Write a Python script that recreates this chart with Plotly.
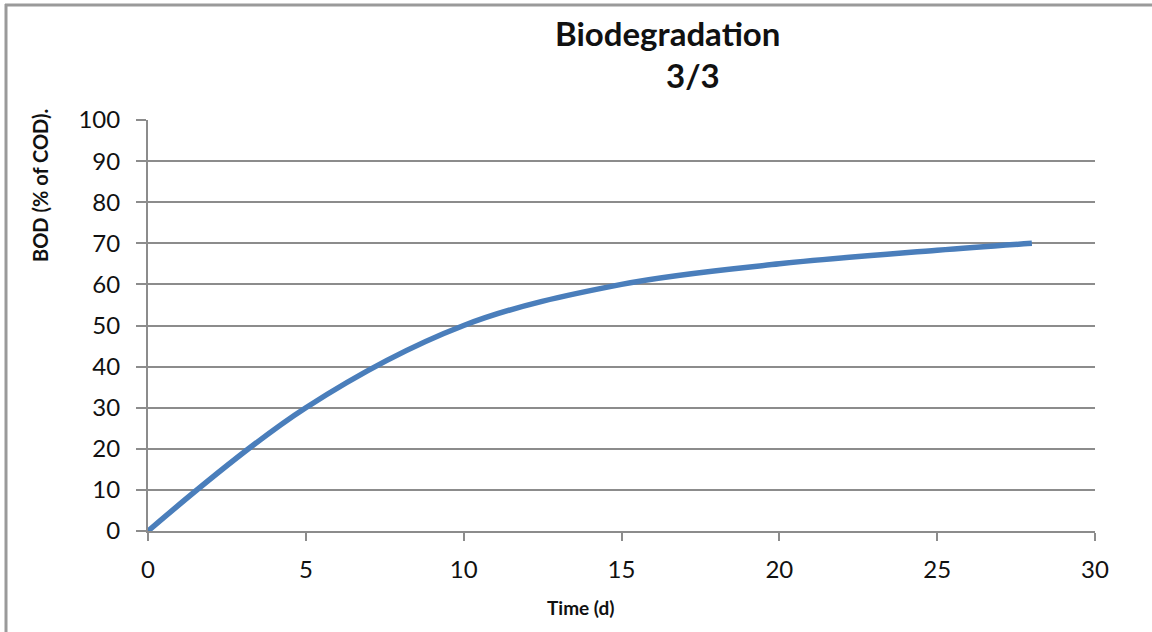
import plotly.graph_objects as go

time_d = [0, 5, 10, 15, 20, 25, 28]
bod_pct = [0, 30, 50, 60, 65, 68.3, 70]
x_ticks = [0, 5, 10, 15, 20, 25, 30]
y_ticks = [0, 10, 20, 30, 40, 50, 60, 70, 80, 90, 100]
title_line1 = "Biodegradation"
title_line2 = "3/3"
x_title = "Time (d)"
y_title = "BOD (% of COD)."

W, H = 1152, 632
L, R, T, B = 148, 57, 120, 101
pw, ph = W - L - R, H - T - B

def px(x):
    return (x - L) / pw

def py(y):
    return (H - B - y) / ph

FONT = "Lato"
GRID = "#8c8c8c"
TXT = "#111111"

fig = go.Figure()
fig.add_trace(go.Scatter(
    x=time_d, y=bod_pct, mode="lines",
    line=dict(color="#4a7ebb", width=5.5, shape="spline", smoothing=1.0),
    hoverinfo="x+y", showlegend=False,
))

fig.update_layout(
    width=W, height=H,
    margin=dict(l=L, r=R, t=T, b=B, pad=0),
    paper_bgcolor="white", plot_bgcolor="white",
    font=dict(family=FONT, color=TXT),
    showlegend=False,
    xaxis=dict(
        range=[0, 30], tickvals=x_ticks, ticktext=[str(v) for v in x_ticks],
        showgrid=False, zeroline=False,
        showline=True, linecolor=GRID, linewidth=2,
        ticks="outside", ticklen=8, tickwidth=2, tickcolor=GRID,
        tickfont=dict(size=24, family=FONT, color=TXT),
        ticklabelstandoff=8,
    ),
    yaxis=dict(
        range=[0, 100], tickvals=y_ticks, ticktext=[str(v) for v in y_ticks],
        showgrid=True, gridcolor=GRID, gridwidth=2, zeroline=False,
        showline=True, linecolor=GRID, linewidth=2,
        ticks="outside", ticklen=10, tickwidth=2, tickcolor=GRID,
        tickfont=dict(size=24, family=FONT, color=TXT),
        ticklabelstandoff=11,
    ),
    annotations=[
        dict(text="<b>%s</b>" % title_line1, x=px(667), y=py(33), xref="paper", yref="paper",
             xanchor="center", yanchor="middle", showarrow=False,
             font=dict(size=33, family=FONT, color=TXT)),
        dict(text="<b>%s</b>" % title_line2, x=px(693), y=py(75), xref="paper", yref="paper",
             xanchor="center", yanchor="middle", showarrow=False,
             font=dict(size=33, family=FONT, color=TXT)),
        dict(text="<b>%s</b>" % x_title, x=px(581), y=py(607), xref="paper", yref="paper",
             xanchor="center", yanchor="middle", showarrow=False,
             font=dict(size=19, family=FONT, color=TXT)),
        dict(text="<b>%s</b>" % y_title, x=px(40), y=py(186), xref="paper", yref="paper",
             xanchor="center", yanchor="middle", showarrow=False, textangle=-90,
             font=dict(size=20, family=FONT, color=TXT)),
    ],
    shapes=[
        dict(type="line", xref="paper", yref="paper", x0=px(5), x1=px(1152), y0=py(5), y1=py(5),
             line=dict(color="#9a9a9a", width=3)),
        dict(type="line", xref="paper", yref="paper", x0=px(6), x1=px(6), y0=py(4), y1=py(640),
             line=dict(color="#9a9a9a", width=3)),
    ],
)

fig.write_html("out.html")
